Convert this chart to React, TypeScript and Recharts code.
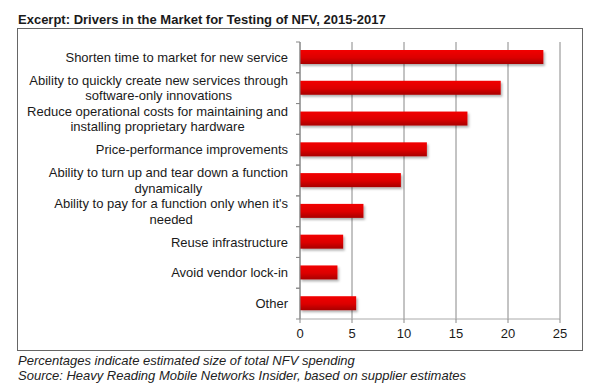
import React from "react";
import { BarChart, Bar, XAxis, YAxis, CartesianGrid } from "recharts";

const categories = [
  "Shorten time to market for new service",
  "Ability to quickly create new services through\nsoftware-only innovations",
  "Reduce operational costs for maintaining and\ninstalling proprietary hardware",
  "Price-performance improvements",
  "Ability to turn up and tear down a function\ndynamically",
  "Ability to pay for a function only when it's\nneeded",
  "Reuse infrastructure",
  "Avoid vendor lock-in",
  "Other",
];
const values = [23.4, 19.3, 16.1, 12.2, 9.7, 6.1, 4.15, 3.6, 5.4];
const xTicks = [0, 5, 10, 15, 20, 25];

const title = "Excerpt: Drivers in the Market for Testing of NFV, 2015-2017";
const notes = [
  "Percentages indicate estimated size of total NFV spending",
  "Source: Heavy Reading Mobile Networks Insider, based on supplier estimates",
];

const FONT = "'Liberation Sans', Arial, sans-serif";
const data = categories.map((name, i) => ({ name, value: values[i] }));

let ctx: CanvasRenderingContext2D | null = null;
function textWidth(s: string) {
  if (!ctx) {
    ctx = document.createElement("canvas").getContext("2d");
    if (ctx) ctx.font = `13px ${FONT}`;
  }
  return ctx ? ctx.measureText(s).width : s.length * 6.5;
}

const TICK_SIZE = 4;
const TICK_MARGIN = 8;

function CategoryTick(props: any) {
  const { x, y, payload } = props;
  const half = payload?.offset ?? 15.4;
  const axisX = x + TICK_SIZE + TICK_MARGIN;
  const lines = String(payload.value).split("\n");
  const blockW = Math.max(...lines.map(textWidth));
  const step = 15.5;
  const y0 = y - ((lines.length - 1) * step) / 2;
  return (
    <g>
      <line x1={axisX - TICK_SIZE} x2={axisX} y1={y - half} y2={y - half} stroke="#888" />
      <line x1={axisX - TICK_SIZE} x2={axisX} y1={y + half} y2={y + half} stroke="#888" />
      {lines.map((l, i) => (
        <text
          key={i}
          x={lines.length > 1 ? x - blockW / 2 : x}
          y={y0 + i * step}
          dy="0.35em"
          textAnchor={lines.length > 1 ? "middle" : "end"}
          fontSize={13}
          fontFamily={FONT}
          fill="#1a1a1a"
        >
          {l}
        </text>
      ))}
    </g>
  );
}

function ShadowBar(props: any) {
  const { x, y, width, height } = props;
  if (!width || width <= 0) return null;
  return <rect x={x} y={y} width={width} height={height} fill="url(#barGrad)" filter="url(#barShadow)" />;
}

export default function App() {
  return (
    <div
      style={{
        position: "absolute",
        left: 0,
        top: 0,
        width: 600,
        height: 391,
        background: "#fff",
        fontFamily: FONT,
        color: "#1a1a1a",
      }}
    >
      <div style={{ position: "absolute", left: 18, top: 12, fontSize: 13, fontWeight: "bold", lineHeight: "15px" }}>
        {title}
      </div>
      <div
        style={{
          position: "absolute",
          left: 17,
          top: 28,
          width: 566,
          height: 323,
          border: "1px solid #666",
          boxSizing: "border-box",
        }}
      />
      {notes.map((n, i) => (
        <div
          key={i}
          style={{
            position: "absolute",
            left: 18,
            top: 353 + i * 15,
            fontSize: 13,
            fontStyle: "italic",
            lineHeight: "15px",
            color: "#222",
          }}
        >
          {n}
        </div>
      ))}
      <div style={{ position: "absolute", left: 0, top: 0 }}>
        <BarChart
          width={600}
          height={391}
          data={data}
          layout="vertical"
          margin={{ top: 42, right: 40, left: 0, bottom: 42 }}
          barCategoryGap={0}
        >
          <defs>
            <linearGradient id="barGrad" x1="0" y1="0" x2="0" y2="1">
              <stop offset="0%" stopColor="#f20000" />
              <stop offset="55%" stopColor="#dc0000" />
              <stop offset="100%" stopColor="#a80000" />
            </linearGradient>
            <filter id="barShadow" x="-5%" y="-20%" width="115%" height="160%">
              <feDropShadow dx="1.5" dy="2" stdDeviation="1" floodColor="#000" floodOpacity="0.3" />
            </filter>
          </defs>
          <CartesianGrid horizontal={false} stroke="#888" />
          <XAxis
            type="number"
            domain={[0, 25]}
            ticks={xTicks}
            height={30}
            axisLine={{ stroke: "#aaa" }}
            tickLine={{ stroke: "#888" }}
            tickSize={4}
            tickMargin={6}
            tick={{ fontSize: 13, fill: "#1a1a1a", fontFamily: FONT }}
          />
          <YAxis
            type="category"
            dataKey="name"
            width={300}
            axisLine={{ stroke: "#888" }}
            tickLine={false}
            tickSize={TICK_SIZE}
            tickMargin={TICK_MARGIN}
            interval={0}
            tick={<CategoryTick />}
          />
          <Bar dataKey="value" barSize={14} isAnimationActive={false} shape={<ShadowBar />} />
        </BarChart>
      </div>
    </div>
  );
}
